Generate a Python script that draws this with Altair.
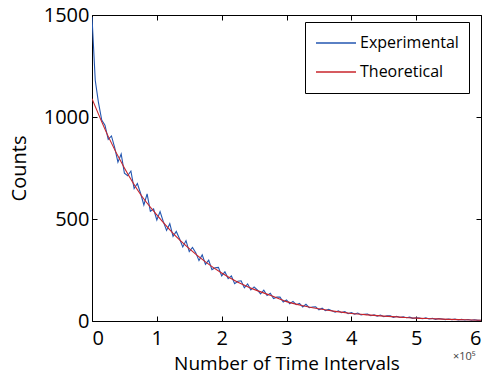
import altair as alt
import pandas as pd

# Theoretical curve (x in units of 1e5 time intervals)
theo_x = [0, 0.25, 0.5, 0.75, 1.0, 1.25, 1.5, 1.75, 2.0, 2.25, 2.5, 2.75, 3.0,
          3.25, 3.5, 3.75, 4.0, 4.25, 4.5, 4.75, 5.0, 5.25, 5.5, 5.75, 6.0]
theo_y = [1090, 905, 750, 620, 520, 430, 355, 290, 235, 190, 155, 126, 95,
          75, 60, 47, 37, 30, 24, 19, 14, 11, 8, 6, 4]

# Experimental counts, sampled every 0.05 (x 1e5)
exp_y = [1490, 1180, 1070, 985, 960, 890,
         907, 850, 779, 819, 725, 712, 735, 649, 674, 625,
         569, 623, 538, 549, 495, 536, 487, 444, 477, 415,
         439, 403, 363, 394, 340, 361, 335, 296, 324, 278,
         298, 252, 261, 263, 221, 241, 208, 221, 183, 195,
         197, 163, 182, 153, 167, 152, 133, 151, 125, 136,
         110, 117, 117, 93, 103, 85, 96, 80, 86, 69,
         82, 65, 69, 70, 55, 63, 51, 57, 50, 43,
         50, 41, 46, 36, 41, 34, 39, 30, 33, 34,
         26, 30, 24, 29, 21, 25, 25, 18, 23, 17,
         21, 16, 19, 13, 16, 14, 11, 15, 10, 13,
         8, 12, 10, 7, 10, 7, 9, 5, 8, 5,
         7, 4, 6, 3, 4]
exp_x = [round(i * 0.05, 2) for i in range(len(exp_y))]

exp_df = pd.DataFrame({"x": exp_x, "y": exp_y, "series": "Experimental"})
theo_df = pd.DataFrame({"x": theo_x, "y": theo_y, "series": "Theoretical"})

FONT = "Open Sans"
xs = alt.Scale(domain=[0, 6], nice=False, zero=False)
ys = alt.Scale(domain=[0, 1500], nice=False)
color = alt.Color(
    "series:N",
    scale=alt.Scale(domain=["Experimental", "Theoretical"], range=["#2356b0", "#c8242b"]),
    legend=alt.Legend(
        title=None, orient="none", legendX=213, legendY=7,
        strokeColor="black", fillColor="white", padding=10,
        symbolType="stroke", symbolSize=1600, symbolStrokeWidth=1.3,
        labelFont=FONT, labelFontSize=16, labelColor="black", rowPadding=7,
        clipHeight=22, labelOffset=3,
    ),
)

ax_common = dict(grid=False, domainColor="black", tickColor="black",
                 tickSize={"expr": "-5"}, labelFont=FONT, labelColor="black",
                 titleFont=FONT, titleColor="black", titleFontWeight="normal")

exp_layer = alt.Chart(exp_df).mark_line(strokeWidth=1.1, clip=True).encode(
    x=alt.X("x:Q", scale=xs, axis=alt.Axis(
        orient="bottom", values=[0, 1, 2, 3, 4, 5, 6], format="d",
        title="Number of Time Intervals", labelFontSize=20, labelPadding=12,
        titleFontSize=19, titlePadding=6, **ax_common)),
    y=alt.Y("y:Q", scale=ys, axis=alt.Axis(
        orient="left", values=[0, 500, 1000, 1500], format="d",
        title="Counts", labelFontSize=20, labelPadding=8,
        titleFontSize=20, titlePadding=14, **ax_common)),
    color=color,
)

theo_layer = alt.Chart(theo_df).mark_line(strokeWidth=1.1, interpolate="monotone", clip=True).encode(
    x=alt.X("x:Q", scale=xs, axis=alt.Axis(
        orient="top", values=[0, 1, 2, 3, 4, 5, 6], labels=False, title=None, **ax_common)),
    y=alt.Y("y:Q", scale=ys, axis=alt.Axis(
        orient="right", values=[0, 500, 1000, 1500], labels=False, title=None, **ax_common)),
    color=color,
)

note = alt.Chart(pd.DataFrame({"t": ["×10⁵"]})).mark_text(
    font=FONT, fontSize=11, color="#444444", align="left", baseline="middle"
).encode(text="t:N", x=alt.value(361), y=alt.value(342))

chart = alt.layer(exp_layer, theo_layer, note).resolve_axis(
    x="independent", y="independent"
).properties(
    width=389, height=306,
    autosize=alt.AutoSizeParams(type="none"),
    padding={"left": 92, "top": 15, "right": 3, "bottom": 54},
).configure_view(stroke=None).configure(background="white")

chart.save("out.html", embed_options={"renderer": "svg", "actions": False})
